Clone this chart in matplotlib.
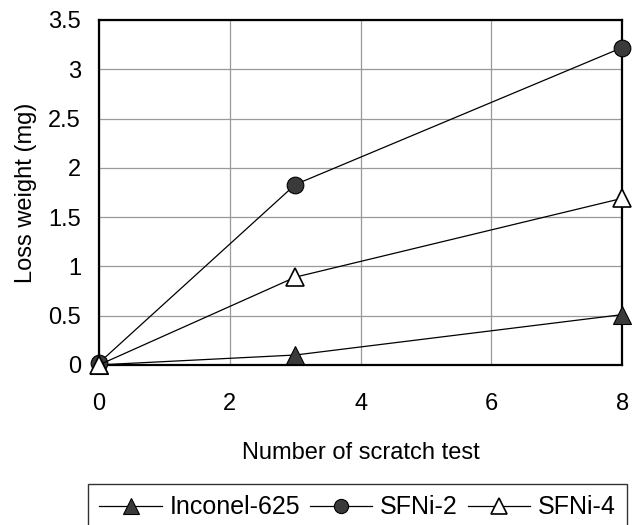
import matplotlib
matplotlib.use("Agg")
import matplotlib.pyplot as plt

plt.rcParams['font.family'] = ['Liberation Sans', 'DejaVu Sans']

x = [0, 3, 8]
inconel_625 = [0.0, 0.1, 0.51]
sfni_2 = [0.02, 1.83, 3.22]
sfni_4 = [0.0, 0.89, 1.69]

fig = plt.figure(figsize=(6.35, 5.25), dpi=100)
ax = fig.add_axes([0.156, 0.305, 0.824, 0.657])

ax.plot(x, inconel_625, color='black', lw=0.9, marker='^', ms=13,
        mfc='#3a3a3a', mec='black', mew=0.8, label='Inconel-625', clip_on=False, zorder=3)
ax.plot(x, sfni_2, color='black', lw=0.9, marker='o', ms=12,
        mfc='#3a3a3a', mec='black', mew=0.8, label='SFNi-2', clip_on=False, zorder=3)
ax.plot(x, sfni_4, color='black', lw=0.9, marker='^', ms=13,
        mfc='white', mec='black', mew=1.2, label='SFNi-4', clip_on=False, zorder=3)

ax.set_xlim(0, 8)
ax.set_ylim(0, 3.5)
ax.set_xticks([0, 2, 4, 6, 8])
ax.set_yticks([0, 0.5, 1, 1.5, 2, 2.5, 3, 3.5])
ax.set_yticklabels(['0', '0.5', '1', '1.5', '2', '2.5', '3', '3.5'])
ax.grid(True, color='#999999', lw=0.9)
ax.set_axisbelow(True)
for s in ax.spines.values():
    s.set_linewidth(1.6)
ax.tick_params(axis='x', labelsize=17, length=0, pad=20)
ax.tick_params(axis='y', labelsize=17, length=0, pad=13)
ax.set_xlabel('Number of scratch test', fontsize=17, labelpad=20)
ax.set_ylabel('Loss weight (mg)', fontsize=17, labelpad=8)

# legend box runs past the right and bottom edges, as in the source
leg = fig.legend(loc='upper left', bbox_to_anchor=(88 / 635, 1 - 484 / 525), ncol=3,
                 fontsize=18, frameon=True, fancybox=False, edgecolor='black',
                 handlelength=2.5, handletextpad=0.3, columnspacing=0.4,
                 borderpad=0.45, borderaxespad=0, markerscale=0.85)
leg.get_frame().set_linewidth(1.0)

fig.savefig('out.png', dpi=100)
